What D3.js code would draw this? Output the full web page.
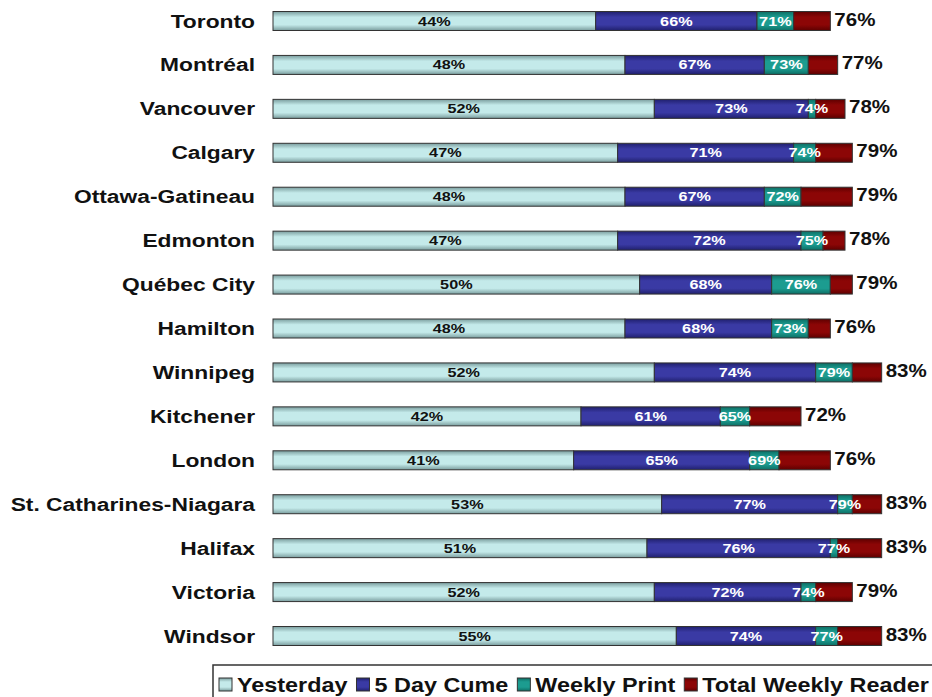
<!DOCTYPE html>
<html lang="en">
<head>
    <meta charset="UTF-8">
    <title>Readership</title>
    <script src="https://cdn.jsdelivr.net/npm/d3@7"></script>
    <style>
        body { margin: 0; background: #fff; }
        text { font-family: "Liberation Sans", Arial, sans-serif; font-weight: bold; }
    </style>
</head>
<body>
<script>
    var cities = ["Toronto", "Montréal", "Vancouver", "Calgary", "Ottawa-Gatineau", "Edmonton", "Québec City",
        "Hamilton", "Winnipeg", "Kitchener", "London", "St. Catharines-Niagara", "Halifax", "Victoria", "Windsor"];
    var yesterday = [44, 48, 52, 47, 48, 47, 50, 48, 52, 42, 41, 53, 51, 52, 55];
    var fiveDay = [66, 67, 73, 71, 67, 72, 68, 68, 74, 61, 65, 77, 76, 72, 74];
    var weeklyPrint = [71, 73, 74, 74, 72, 75, 76, 73, 79, 65, 69, 79, 77, 74, 77];
    var totalWeekly = [76, 77, 78, 79, 79, 78, 79, 76, 83, 72, 76, 83, 83, 79, 83];
    var seriesNames = ["Yesterday", "5 Day Cume", "Weekly Print", "Total Weekly Reader"];

    // gradient colours: edge, middle
    var colors = [["#7a9d9e", "#c4eaea"], ["#20206e", "#3a3aa4"], ["#0c6e64", "#1c9c90"], ["#5e0000", "#8c0606"]];
    var labelFill = ["#111", "#fff", "#fff", "#111"];

    var svg = d3.select("body").append("svg").attr("width", 932).attr("height", 697);
    var defs = svg.append("defs");
    colors.forEach(function (c, i) {
        var g = defs.append("linearGradient").attr("id", "grad" + i).attr("x1", 0).attr("y1", 0).attr("x2", 0).attr("y2", 1);
        g.append("stop").attr("offset", "0%").attr("stop-color", c[0]);
        g.append("stop").attr("offset", "30%").attr("stop-color", c[1]);
        g.append("stop").attr("offset", "70%").attr("stop-color", c[1]);
        g.append("stop").attr("offset", "100%").attr("stop-color", c[0]);
    });

    var x = d3.scaleLinear().domain([0, 90]).range([273, 933]);
    var y = d3.scalePoint().domain(cities).range([21, 636]);
    var barH = 19;

    var rows = cities.map(function (c, i) {
        var ends = [yesterday[i], fiveDay[i], weeklyPrint[i], totalWeekly[i]];
        return {
            city: c, segs: ends.map(function (v, k) {
                return {k: k, start: k == 0 ? 0 : ends[k - 1], end: v};
            })
        };
    });

    var row = svg.selectAll(".row").data(rows).enter().append("g").attr("class", "row")
        .attr("transform", function (d) { return "translate(0," + y(d.city) + ")"; });

    row.append("text").attr("text-anchor", "end").attr("font-size", 19).attr("fill", "#111")
        .attr("transform", "translate(255,6.5) scale(1.2,1)")
        .text(function (d) { return d.city; });

    row.selectAll("rect").data(function (d) { return d.segs; }).enter().append("rect")
        .attr("x", function (d) { return x(d.start); })
        .attr("y", -barH / 2)
        .attr("width", function (d) { return x(d.end) - x(d.start); })
        .attr("height", barH)
        .attr("fill", function (d) { return "url(#grad" + d.k + ")"; })
        .attr("stroke", "#333").attr("stroke-width", 1);

    // labels inside the bar (first three series)
    row.selectAll(".seglabel").data(function (d) { return d.segs.slice(0, 3); }).enter().append("text")
        .attr("class", "seglabel").attr("text-anchor", "middle").attr("font-size", 13.5)
        .attr("fill", function (d) { return labelFill[d.k]; })
        .attr("transform", function (d) {
            return "translate(" + ((x(d.start) + x(d.end)) / 2) + ",4.5) scale(1.2,1)";
        })
        .text(function (d) { return d.end + "%"; });

    // total label to the right of the bar
    row.append("text").attr("font-size", 19).attr("fill", "#111")
        .attr("transform", function (d) { return "translate(" + (x(d.segs[3].end) + 4) + ",4.5) scale(1.08,1)"; })
        .text(function (d) { return d.segs[3].end + "%"; });

    // legend
    var legend = svg.append("g").attr("transform", "translate(213,665)");
    legend.append("rect").attr("x", 0).attr("y", 0).attr("width", 740).attr("height", 50)
        .attr("fill", "#fff").attr("stroke", "#333").attr("stroke-width", 1.5);
    var lx = 6;
    seriesNames.forEach(function (name, i) {
        legend.append("rect").attr("x", lx).attr("y", 13).attr("width", 13).attr("height", 13)
            .attr("fill", "url(#grad" + i + ")").attr("stroke", "#333");
        var t = legend.append("text").attr("font-size", 20).attr("fill", "#111")
            .attr("transform", "translate(" + (lx + 18) + ",27) scale(1.17,1)")
            .text(name);
        lx += 18 + t.node().getComputedTextLength() * 1.17 + 9;
    });
</script>
</body>
</html>
